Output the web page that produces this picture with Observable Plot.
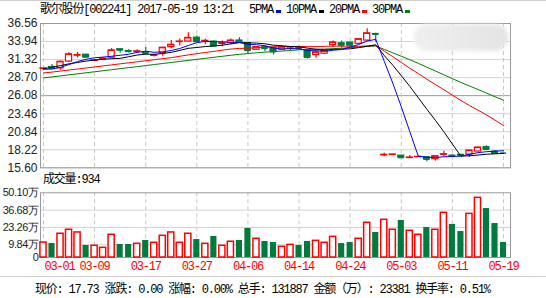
<!DOCTYPE html>
<html><head><meta charset="utf-8">
<script src="https://cdn.jsdelivr.net/npm/d3@7"></script>
<script src="https://cdn.jsdelivr.net/npm/@observablehq/plot@0.6"></script>
<style>
body{margin:0;background:#fff;}
#root{position:relative;width:546px;height:298px;overflow:hidden;background:#fff;}
.t{position:absolute;white-space:nowrap;font-family:"Liberation Mono","Noto Sans CJK SC",monospace;font-size:12px;letter-spacing:-1.2px;color:#000;line-height:14px;}
.abs{position:absolute;}
</style></head><body>
<div id="root"></div>
<script>
// ---------- data ----------
const stockName = "歌尔股份";
const stockCode = "002241";
const stamp = "2017-05-19 13:21";
const maNames = ["5PMA", "10PMA", "20PMA", "30PMA"];
const maColors = ["#0000ff", "#000000", "#ff0000", "#008000"];
const volumeLabel = "成交量";
const volumeNow = "934";
const footerLabels = ["现价", "涨跌", "涨幅", "总手", "金额（万）", "换手率"];
const footerValues = ["17.73", "0.00", "0.00%", "131887", "23381", "0.51%"];

const dates = ["03-01","03-02","03-03","03-06","03-07","03-08","03-09","03-10","03-13","03-14","03-15","03-16","03-17","03-20","03-21","03-22","03-23","03-24","03-27","03-28","03-29","03-30","03-31","04-05","04-06","04-07","04-10","04-11","04-12","04-13","04-14","04-17","04-18","04-19","04-20","04-21","04-24","04-25","04-26","04-27","04-28","05-02","05-03","05-04","05-05","05-08","05-09","05-10","05-11","05-12","05-15","05-16","05-17","05-18","05-19"];
const xTickLabels = ["03-01","03-09","03-17","03-27","04-06","04-14","04-24","05-03","05-11","05-19"];

const open  = [30.00,30.26,30.05,31.03,31.93,32.04,31.15,31.42,31.60,32.83,32.55,32.48,32.30,31.90,32.26,33.13,33.90,33.94,34.51,34.00,33.94,33.60,33.70,34.10,33.70,32.75,33.13,33.04,32.75,32.90,32.98,32.65,31.98,32.18,33.42,33.70,33.80,33.61,34.08,35.05,17.45,17.50,17.38,17.05,17.18,17.14,16.85,17.53,17.38,17.50,17.53,17.96,18.60,17.96,17.73];
const high  = [30.10,30.60,31.10,32.30,32.37,32.10,31.35,31.60,32.94,32.85,32.75,32.75,33.08,32.10,33.10,34.08,34.30,35.23,34.76,34.27,34.00,34.00,34.30,34.50,33.80,33.20,33.30,33.10,33.20,33.10,33.20,32.70,32.40,32.70,34.00,34.00,33.85,34.30,35.80,35.15,17.70,17.60,17.40,17.40,17.22,17.20,17.30,18.00,17.50,17.55,18.15,18.60,18.80,18.10,17.73];
const low   = [29.95,30.00,29.80,30.90,31.55,31.65,31.05,31.30,31.50,32.26,32.26,32.26,32.04,31.70,31.80,32.90,33.30,33.90,33.90,33.47,33.30,33.20,33.50,33.70,32.20,32.70,32.50,31.98,32.70,32.60,32.70,31.41,31.50,32.10,33.10,33.00,33.40,33.55,34.00,33.85,17.20,17.45,17.05,16.90,17.18,16.47,16.60,17.20,17.20,17.35,17.10,17.90,18.10,17.60,17.73];
const close = [30.03,30.07,31.00,32.08,31.98,31.69,31.20,31.46,32.65,32.70,32.51,32.51,32.26,31.94,33.04,33.47,33.94,34.47,33.94,34.04,33.32,33.70,34.08,33.85,32.65,33.13,32.94,32.47,33.13,32.94,32.94,31.65,32.37,32.65,33.80,33.42,33.42,34.27,35.13,35.00,17.49,17.53,17.09,17.09,17.20,16.85,17.28,17.57,17.34,17.43,18.11,18.54,18.30,17.72,17.73];
// volume, 万
const volume = [11.6,10.8,18.4,21.5,19.4,9.3,9.1,7.5,17.6,10.1,10.1,10.6,13.2,11.4,16.8,19.4,11.4,18.4,13.9,10.6,16.3,9.1,12.2,13.2,22.5,14.5,12.4,11.6,8.3,9.8,9.3,12.4,12.9,11.4,16.0,10.8,11.6,14.5,26.9,19.4,29.2,21.5,28.7,20.7,17.6,23.2,21.5,34.6,25.6,20.1,33.8,46.2,37.9,26.3,11.6];

const ma5  = [29.90,29.95,30.20,30.60,31.03,31.36,31.59,31.68,31.80,31.94,32.10,32.37,32.53,32.38,32.45,32.64,32.93,33.37,33.77,33.97,33.94,33.89,33.82,33.80,33.52,33.48,33.33,33.00,32.86,32.92,32.88,32.63,32.61,32.51,32.68,32.78,33.13,33.51,34.01,34.26,31.07,27.90,24.46,20.85,17.28,17.15,17.10,17.20,17.25,17.29,17.55,17.80,17.94,18.02,18.08];
const ma10 = [30.00,30.20,30.45,30.70,30.90,31.10,31.25,31.35,31.45,31.49,31.73,31.98,32.10,32.09,32.20,32.37,32.65,32.95,33.08,33.21,33.29,33.41,33.59,33.79,33.75,33.71,33.61,33.41,33.33,33.22,33.18,32.98,32.81,32.69,32.80,32.83,32.88,33.06,33.26,33.47,31.92,30.51,28.98,27.43,25.77,24.11,22.50,20.83,19.05,17.29,17.35,17.45,17.57,17.63,17.69];
const ma20 = [29.38,29.50,29.65,29.80,29.95,30.10,30.25,30.40,30.55,30.70,30.85,31.00,31.15,31.30,31.45,31.60,31.80,32.00,32.18,32.35,32.51,32.70,32.85,32.94,32.97,33.04,33.13,33.18,33.20,33.22,33.24,33.20,33.20,33.24,33.27,33.27,33.25,33.24,33.30,33.35,32.55,31.75,30.90,30.06,29.29,28.47,27.69,26.94,26.15,25.38,24.64,23.98,23.28,22.53,21.73];
const ma30 = [28.65,28.80,28.95,29.10,29.25,29.40,29.55,29.70,29.85,30.00,30.15,30.30,30.45,30.60,30.75,30.90,31.05,31.20,31.35,31.50,31.65,31.80,31.95,32.08,32.20,32.30,32.40,32.48,32.56,32.64,32.74,32.79,32.84,32.85,32.91,32.97,33.05,33.14,33.22,33.30,32.80,32.30,31.80,31.30,30.77,30.22,29.66,29.10,28.55,27.99,27.49,26.98,26.45,25.92,25.42];

const priceTicks = [15.60,18.22,20.84,23.46,26.08,28.70,31.32,33.94,36.56];
const priceMid = 26.08;
const volTicks = [0, 9.84, 23.26, 36.68, 50.10];

// ---------- build ----------
const RED = "#ff0000", GREEN = "#007a3d";
const candles = dates.map((d, i) => ({i, date: d, open: open[i], high: high[i], low: low[i], close: close[i], v: volume[i]}));
const up = candles.filter(d => d.close > d.open);
const down = candles.filter(d => d.close <= d.open);
const gridPos = xTickLabels.map(l => dates.indexOf(l));
const xDomain = [-0.35, dates.length - 1 + 0.82];
const half = 0.36;
const x1 = d => d.i - half, x2 = d => d.i + half;
const font = {fontFamily: "Liberation Sans, Arial, sans-serif", fontSize: "12px", color: "#222", background: "transparent", overflow: "visible"};

const root = document.getElementById("root");

const pricePlot = Plot.plot({
  width: 546, height: 170,
  marginLeft: 40, marginRight: 36, marginTop: 23, marginBottom: 2.7,
  style: font,
  x: {domain: xDomain, axis: null},
  y: {domain: [priceTicks[0], priceTicks[priceTicks.length - 1]], ticks: priceTicks, tickFormat: d => d.toFixed(2), tickSize: 0, tickPadding: 3, label: null},
  marks: [
    Plot.ruleY(priceTicks.filter(t => t !== priceMid), {stroke: "#d4d4d4"}),
    Plot.ruleY([priceMid], {stroke: "#9a9a9a"}),
    Plot.ruleX(gridPos, {stroke: "#c8c8c8", strokeDasharray: "4,3"}),
    Plot.frame({stroke: "#9a9a9a"}),
    Plot.ruleX(up, {x: "i", y1: "low", y2: "high", stroke: RED, strokeWidth: 1.2}),
    Plot.ruleX(down, {x: "i", y1: "low", y2: "high", stroke: GREEN, strokeWidth: 1.2}),
    Plot.rect(up, {x1, x2, y1: "open", y2: "close", fill: "#fff", stroke: RED, strokeWidth: 1.2}),
    Plot.rect(down, {x1, x2, y1: "open", y2: "close", fill: GREEN, stroke: GREEN, strokeWidth: 1}),
    Plot.ruleY(up, {y: "close", x1, x2, stroke: RED, strokeWidth: 1.2}),
    Plot.ruleY(down, {y: "close", x1, x2, stroke: GREEN, strokeWidth: 1.5}),
    Plot.line(ma30, {x: (d, i) => i, y: d => d, stroke: maColors[3], strokeWidth: 1}),
    Plot.line(ma20, {x: (d, i) => i, y: d => d, stroke: maColors[2], strokeWidth: 1}),
    Plot.line(ma10, {x: (d, i) => i, y: d => d, stroke: maColors[1], strokeWidth: 1}),
    Plot.line(ma5, {x: (d, i) => i, y: d => d, stroke: maColors[0], strokeWidth: 1})
  ]
});
pricePlot.classList.add("abs");
pricePlot.style.left = "0px"; pricePlot.style.top = "0px";
root.appendChild(pricePlot);

const volPlot = Plot.plot({
  width: 546, height: 92,
  marginLeft: 40, marginRight: 36, marginTop: 7.3, marginBottom: 20,
  style: font,
  x: {domain: xDomain, axis: null},
  y: {domain: [volTicks[0], volTicks[volTicks.length - 1]], ticks: volTicks, tickFormat: d => d === 0 ? "0" : d.toFixed(2) + "万", tickSize: 0, tickPadding: 2, label: null},
  marks: [
    Plot.ruleY(volTicks.slice(1, -1), {stroke: "#d4d4d4"}),
    Plot.ruleX(gridPos, {stroke: "#c8c8c8", strokeDasharray: "4,3"}),
    Plot.frame({stroke: "#9a9a9a"}),
    Plot.rect(up, {x1, x2, y1: 0, y2: "v", fill: "#fff", stroke: RED, strokeWidth: 1.5}),
    Plot.rect(down, {x1, x2, y1: 0, y2: "v", fill: GREEN}),
    Plot.text(xTickLabels.slice(0, 1), {x: d => dates.indexOf(d), text: d => d, frameAnchor: "bottom", dy: 12, dx: 1, textAnchor: "start", fill: RED, fontFamily: "Liberation Mono", fontSize: 12}),
    Plot.text(xTickLabels.slice(1), {x: d => dates.indexOf(d), text: d => d, frameAnchor: "bottom", dy: 12, fill: RED, fontFamily: "Liberation Mono", fontSize: 12})
  ]
});
volPlot.classList.add("abs");
volPlot.style.left = "0px"; volPlot.style.top = "185px";
d3.select(volPlot).selectAll("g[aria-label=text] text").attr("letter-spacing", "-1.2");
d3.select(volPlot).selectAll("g[aria-label^='y-axis'] text").attr("font-size", "11px").attr("letter-spacing", "-0.45");
root.appendChild(volPlot);

// watermark smudge
const blob = document.createElement("div");
blob.className = "abs";
Object.assign(blob.style, {left: "414px", top: "24px", width: "94px", height: "27px", borderRadius: "13px", background: "linear-gradient(to right,#efefef,#e4e4e4)", filter: "blur(2px)"});
root.appendChild(blob);

// top & separator lines
const topLine = document.createElement("div");
topLine.className = "abs";
Object.assign(topLine.style, {left: "0px", top: "0px", width: "546px", height: "1px", background: "#cfcfcf"});
root.appendChild(topLine);
const sep = document.createElement("div");
sep.className = "abs";
Object.assign(sep.style, {left: "0px", top: "276px", width: "546px", height: "1px", background: "#d0d0d0"});
root.appendChild(sep);

// header
const head = document.createElement("div");
head.className = "t";
head.style.left = "40px"; head.style.top = "3px";
head.textContent = `${stockName}[${stockCode}] ${stamp}`;
root.appendChild(head);

const leg = document.createElement("div");
leg.className = "t";
Object.assign(leg.style, {left: "249px", top: "3px", display: "flex", alignItems: "center"});
maNames.forEach((n, k) => {
  const s = document.createElement("span");
  s.textContent = n;
  leg.appendChild(s);
  const sq = document.createElement("span");
  Object.assign(sq.style, {display: "inline-block", width: "5px", height: "3px", background: maColors[k], marginLeft: "3px", marginRight: "5px", marginTop: "3px"});
  leg.appendChild(sq);
});
root.appendChild(leg);

const vl = document.createElement("div");
vl.className = "t";
vl.style.left = "43px"; vl.style.top = "173px";
vl.textContent = `${volumeLabel}:${volumeNow}`;
root.appendChild(vl);

const foot = document.createElement("div");
foot.className = "t";
foot.style.left = "35px"; foot.style.top = "283px";
foot.textContent = footerLabels.map((l, k) => `${l}: ${footerValues[k]}`).join(" ");
root.appendChild(foot);
</script>
</body></html>
